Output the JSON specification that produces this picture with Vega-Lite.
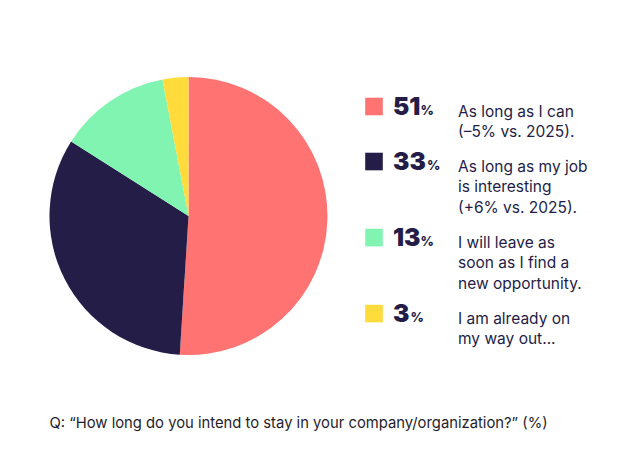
{
  "$schema": "https://vega.github.io/schema/vega-lite/v6.json",
  "description": "How long respondents intend to stay in their company, pie with custom legend.",
  "padding": {"left": 49.5, "top": 77, "right": 5, "bottom": 5},
  "bounds": "flush",
  "spacing": 37.5,
  "data": {
    "values": [
      {"answer": "stay", "pct": 51, "label": "As long as I can|(–5% vs. 2025)."},
      {"answer": "interesting", "pct": 33, "label": "As long as my job|is interesting|(+6% vs. 2025)."},
      {"answer": "leave", "pct": 13, "label": "I will leave as|soon as I find a|new opportunity."},
      {"answer": "out", "pct": 3, "label": "I am already on|my way out..."}
    ]
  },
  "transform": [
    {"calculate": "length(split(datum.label, '|'))", "as": "nLines"},
    {
      "window": [
        {"op": "sum", "field": "nLines", "as": "linesThrough"},
        {"op": "row_number", "as": "idx"}
      ],
      "sort": [{"field": "pct", "order": "descending"}]
    },
    {"calculate": "datum.linesThrough - datum.nLines + 0.62 * (datum.idx - 1)", "as": "slot"},
    {"calculate": "'' + datum.pct", "as": "num"},
    {"calculate": "length(split(datum.num, '1')) - 1", "as": "ones"},
    {"calculate": "(length(datum.num) - datum.ones) * 16.4 + datum.ones * 10 + 1.2", "as": "pctShift"}
  ],
  "title": {
    "text": "Q: “How long do you intend to stay in your company/organization?” (%)",
    "orient": "bottom",
    "anchor": "start",
    "baseline": "top",
    "offset": 61,
    "fontSize": 14.8,
    "fontWeight": "normal",
    "font": "Inter",
    "color": "#1f1d2b"
  },
  "hconcat": [
    {
      "width": 278,
      "height": 278,
      "mark": {"type": "arc"},
      "encoding": {
        "theta": {"field": "pct", "type": "quantitative", "stack": true},
        "order": {"field": "pct", "type": "quantitative", "sort": "descending"},
        "color": {
          "field": "answer",
          "type": "nominal",
          "legend": null,
          "scale": {
            "domain": ["stay", "interesting", "leave", "out"],
            "range": ["#ff7373", "#231d47", "#82f4b1", "#ffdb3b"]
          }
        }
      }
    },
    {
      "bounds": "flush",
      "spacing": 9,
      "hconcat": [
        {
          "width": 18,
          "height": 278,
          "mark": {"type": "point", "shape": "square", "filled": true, "opacity": 1, "size": 310},
          "encoding": {
            "y": {"field": "slot", "type": "quantitative", "axis": null, "scale": {"domain": [0, 10], "range": [29.5, 239.5]}},
            "color": {
              "field": "answer",
              "type": "nominal",
              "legend": null,
              "scale": {
                "domain": ["stay", "interesting", "leave", "out"],
                "range": ["#ff7373", "#231d47", "#82f4b1", "#ffdb3b"]
              }
            }
          }
        },
        {
          "bounds": "flush",
          "spacing": 63,
          "hconcat": [
            {
              "width": 2,
              "height": 278,
              "encoding": {
                "y": {"field": "slot", "type": "quantitative", "axis": null, "scale": {"domain": [0, 10], "range": [29.5, 239.5]}}
              },
              "layer": [
                {
                  "mark": {"type": "text", "align": "left", "baseline": "alphabetic", "dy": 8.5, "font": "Inter", "fontSize": 24.5, "fontWeight": 900, "color": "#231d47"},
                  "encoding": {"text": {"field": "num", "type": "nominal"}}
                },
                {
                  "mark": {"type": "text", "align": "left", "baseline": "alphabetic", "dy": 8.5, "font": "Inter", "fontSize": 13, "fontWeight": 800, "color": "#231d47", "text": "%"},
                  "encoding": {"xOffset": {"field": "pctShift", "type": "quantitative", "scale": null}}
                }
              ]
            },
            {
              "width": 2,
              "height": 278,
              "mark": {"type": "text", "align": "left", "baseline": "alphabetic", "dy": 10, "lineBreak": "|", "lineHeight": 20.5, "font": "Inter", "fontSize": 15.5, "color": "#231d47"},
              "encoding": {
                "y": {"field": "slot", "type": "quantitative", "axis": null, "scale": {"domain": [0, 10], "range": [29.5, 239.5]}},
                "text": {"field": "label", "type": "nominal"}
              }
            }
          ]
        }
      ]
    }
  ],
  "config": {
    "view": {"stroke": null},
    "font": "Inter"
  }
}
